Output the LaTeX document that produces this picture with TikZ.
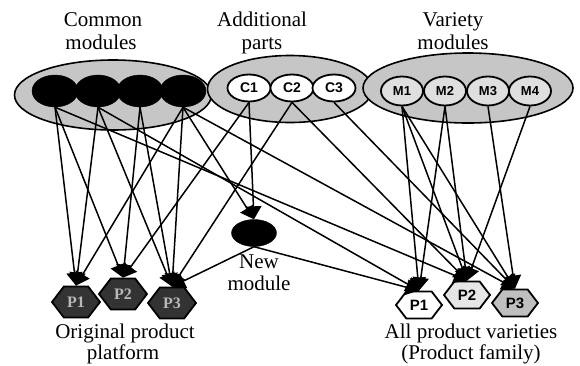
\documentclass[tikz,border=0pt]{standalone}
\usepackage{fontspec}
\setmainfont{Liberation Serif}
\newfontfamily\lsans{Liberation Sans}
\usetikzlibrary{arrows.meta,shapes.geometric,shapes.symbols}
\begin{document}
\begin{tikzpicture}[x=1pt,y=-1pt,
  grp/.style={ellipse,draw=black,line width=1.6pt,fill=gray!45,inner sep=0},
  cmod/.style={ellipse,fill=black,draw=black,minimum width=46pt,minimum height=32pt,inner sep=0},
  part/.style={ellipse,fill=white,draw=black,line width=1.8pt,minimum width=43pt,minimum height=27pt,inner sep=0,font=\lsans\bfseries\fontsize{14}{14}\selectfont},
  vmod/.style={ellipse,fill=gray!25,draw=black,line width=1.8pt,minimum width=42pt,minimum height=29pt,inner sep=0,font=\lsans\bfseries\fontsize{13}{13}\selectfont},
  hexo/.style={signal,signal to=east and west,signal pointer angle=105,draw=black,line width=1.8pt,fill=black!80,text=gray!55,minimum width=48pt,minimum height=31pt,inner sep=0,font=\bfseries\fontsize{16}{16}\selectfont},
  hexp/.style={signal,signal to=east and west,signal pointer angle=105,draw=black,line width=1.8pt,minimum width=46pt,minimum height=27pt,inner sep=0,font=\lsans\bfseries\fontsize{15}{15}\selectfont},
  arr/.style={-{Triangle[length=13pt,width=16pt]},line width=1.5pt},
  lbl/.style={font=\fontsize{21}{21}\selectfont,anchor=base,inner sep=0}
]
\useasboundingbox (0,0) rectangle (580,365);
% group ellipses
\node[grp,minimum width=197pt,minimum height=70pt] (gc) at (113,95) {};
\node[grp,minimum width=165pt,minimum height=67pt] (ga) at (290,89) {};
\node[grp,minimum width=210pt,minimum height=70pt] (gv) at (468,88) {};
% titles
\node[lbl] (t1a) at (103,26) {Common};
\node[lbl] (t1b) at (101,49) {modules};
\node[lbl] (t2a) at (262,26) {Additional};
\node[lbl] (t2b) at (262,49) {parts};
\node[lbl] (t3a) at (453,26) {Variety};
\node[lbl] (t3b) at (453,49) {modules};
% modules
\node[cmod] (cm1) at (55,91) {};
\node[cmod] (cm2) at (98,91) {};
\node[cmod] (cm3) at (140,91) {};
\node[cmod] (cm4) at (183,91) {};
\node[part] (c1) at (249,88) {C1};
\node[part] (c2) at (292,88) {C2};
\node[part] (c3) at (334,88) {C3};
\node[vmod] (m1) at (402,91) {M1};
\node[vmod] (m2) at (445,91) {M2};
\node[vmod] (m3) at (488,91) {M3};
\node[vmod] (m4) at (530,91) {M4};
\node[cmod,minimum width=45pt,minimum height=27pt] (nm) at (254,233) {};
% products
\node[hexo] (h1) at (76,302) {P1};
\node[hexo] (h2) at (123,294) {P2};
\node[hexo] (h3) at (172,303) {P3};
\node[hexp,fill=white] (p1) at (419,305) {P1};
\node[hexp,fill=gray!20] (p2) at (467,295) {P2};
\node[hexp,fill=gray!50] (p3) at (515,303) {P3};
% connectors
\draw[arr] (cm1.south) -- (h1.north);
\draw[arr] (cm1.south) -- (h2.north);
\draw[arr] (cm1.south) -- (p2.north);
\draw[arr] (cm2.south) -- (h1.north);
\draw[arr] (cm2.south) -- (h3.north);
\draw[arr] (cm2.south) -- (p1.north);
\draw[arr] (cm3.south) -- (h2.north);
\draw[arr] (cm3.south) -- (h3.north);
\draw[arr] (cm4.south) -- (h1.north);
\draw[arr] (cm4.south) -- (h3.north);
\draw[arr] (cm4.south) -- (nm.north);
\draw[arr] (cm4.south) -- (p3.north);
\draw[arr] (c1.south) -- (h2.north);
\draw[arr] (c1.south) -- (nm.north);
\draw[arr] (c2.south) -- (h3.north);
\draw[arr] (c2.south) -- (p2.north);
\draw[arr] (c3.south) -- (p3.north);
\draw[arr] (m1.south) -- (p1.north);
\draw[arr] (m1.south) -- (p2.north);
\draw[arr] (m1.south) -- (p3.north);
\draw[arr] (m2.south) -- (p1.north);
\draw[arr] (m2.south) -- (p2.north);
\draw[arr] (m3.south) -- (p3.north);
\draw[arr] (m4.south) -- (p2.north);
\draw[arr] (nm.south) -- (h3.north);
\draw[arr] (nm.south) -- (p1.north);
% bottom labels
\node[lbl] (nla) at (259,268) {New};
\node[lbl] (nlb) at (259,290) {module};
\node[lbl] (ola) at (125,338) {Original product};
\node[lbl] (olb) at (123,359) {platform};
\node[lbl] (ala) at (471,338) {All product varieties};
\node[lbl] (alb) at (471,359) {(Product family)};
\end{tikzpicture}
\end{document}
